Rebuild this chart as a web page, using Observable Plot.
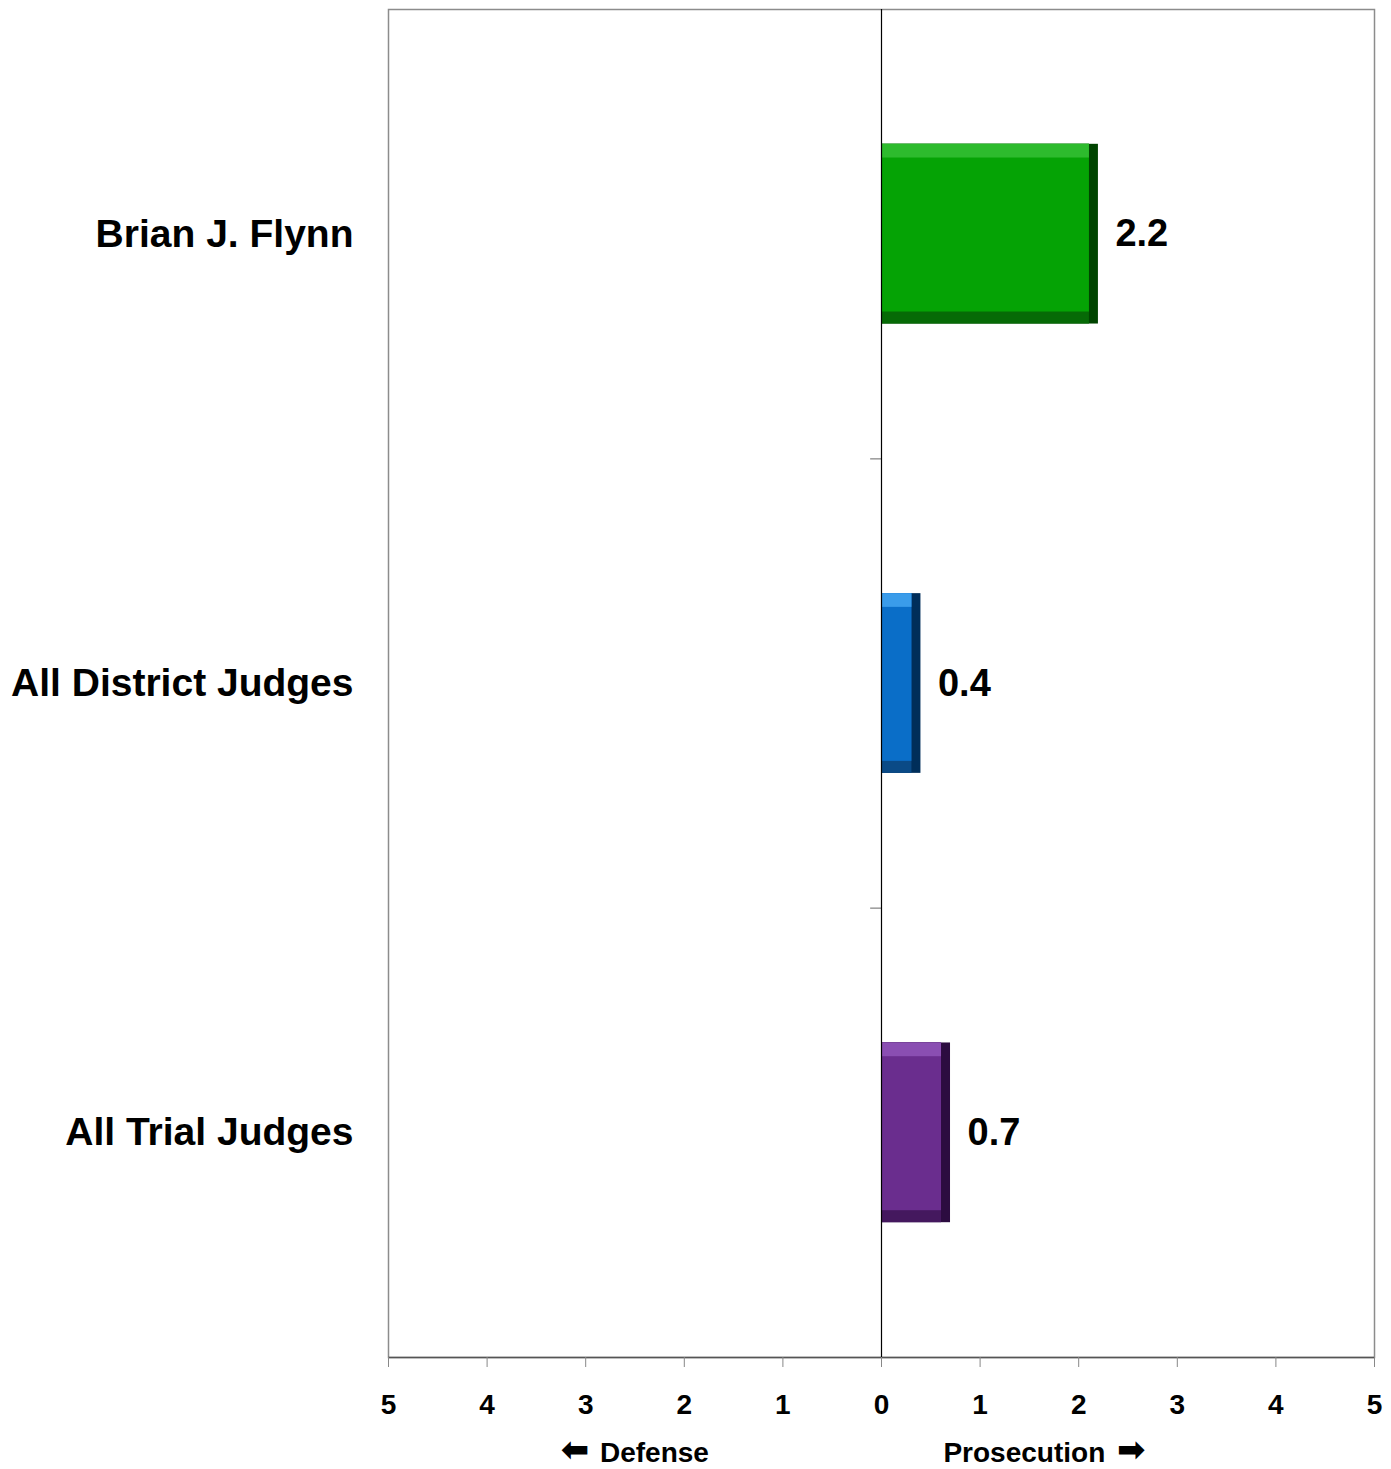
<!DOCTYPE html>
<html>
<head>
<meta charset="utf-8">
<script src="https://cdn.jsdelivr.net/npm/d3@7"></script>
<script src="https://cdn.jsdelivr.net/npm/@observablehq/plot@0.6"></script>
<style>
  html, body { margin: 0; padding: 0; background: #fff; }
  svg { font-family: "Liberation Sans", Arial, sans-serif; }
</style>
</head>
<body>
<div id="chart"></div>
<script>
const categories = ["Brian J. Flynn", "All District Judges", "All Trial Judges"];
const values = [2.2, 0.4, 0.7];
const faceColors = ["#05A305", "#0A6EC8", "#6A2D8E"];
const lightColors = ["#2DBB2D", "#3A9CEA", "#8A4EB2"];
const bottomColors = ["#066A06", "#0A4A86", "#44185E"];
const darkColors = ["#004400", "#002E5A", "#2C0C40"];
const xTicks = [-5, -4, -3, -2, -1, 0, 1, 2, 3, 4, 5];
const leftLabel = [{x: -2.5, label: "Defense", arrow: "\u2B05"}];
const rightLabel = [{x: 1.6, label: "Prosecution", arrow: "\u27A1"}];
const bandTicks = [0.5, 1.5];

const data = categories.map((c, i) => ({
  category: c, i, value: values[i],
  face: faceColors[i], light: lightColors[i], bottom: bottomColors[i], dark: darkColors[i]
}));

const barOpts = (extra) => Object.assign({x1: 0, x2: "value", y1: d => d.i - 0.2, y2: d => d.i + 0.2}, extra);
const wordOpts = {x: "x", text: "label", frameAnchor: "bottom", dy: 104, fontSize: 28, fontWeight: "bold", fill: "#000"};
const arrowOpts = {x: "x", text: "arrow", frameAnchor: "bottom", dy: 103, fontSize: 34, fontWeight: "bold", fill: "#000", fontFamily: "DejaVu Sans"};

const chart = Plot.plot({
  width: 1391,
  height: 1469,
  marginLeft: 388,
  marginRight: 17,
  marginTop: 9,
  marginBottom: 112,
  x: {domain: [-5, 5]},
  y: {type: "linear", domain: [-0.5, 2.5], reverse: true, axis: null},
  marks: [
    Plot.frame({stroke: "#8c8c8c", strokeWidth: 1.5}),
    Plot.ruleY([2.5], {stroke: "#555", strokeWidth: 1.5}),
    Plot.axisX({
      ticks: xTicks, tickFormat: d => Math.abs(d), tickSize: 10, tickPadding: 27,
      stroke: "#888", fill: "#000", fontSize: 28, fontWeight: "bold", label: null
    }),
    Plot.ruleY(bandTicks, {x1: -0.11, x2: 0, stroke: "#999", strokeWidth: 1.5}),
    Plot.rect(data, barOpts({fill: "dark"})),
    Plot.rect(data, barOpts({fill: "bottom", insetRight: 9})),
    Plot.rect(data, barOpts({fill: "face", insetRight: 9, insetBottom: 12})),
    Plot.rect(data, barOpts({fill: "light", insetRight: 9, insetBottom: 166})),
    Plot.ruleX([0], {stroke: "#000", strokeWidth: 1.2}),
    Plot.text(data, {x: -5, y: "i", text: "category", dx: -35, textAnchor: "end",
      fontSize: 39, fontWeight: "bold", fill: "#000"}),
    Plot.text(data, {x: "value", y: "i", text: d => d.value.toFixed(1), dx: 17, textAnchor: "start",
      fontSize: 38, fontWeight: "bold", fill: "#000"}),
    Plot.text(leftLabel, {...wordOpts, textAnchor: "start", dx: -35}),
    Plot.text(leftLabel, {...arrowOpts, textAnchor: "middle", dx: -60}),
    Plot.text(rightLabel, {...wordOpts, textAnchor: "end", dx: 66}),
    Plot.text(rightLabel, {...arrowOpts, textAnchor: "middle", dx: 92})
  ]
});
document.getElementById("chart").appendChild(chart);
</script>
</body>
</html>
